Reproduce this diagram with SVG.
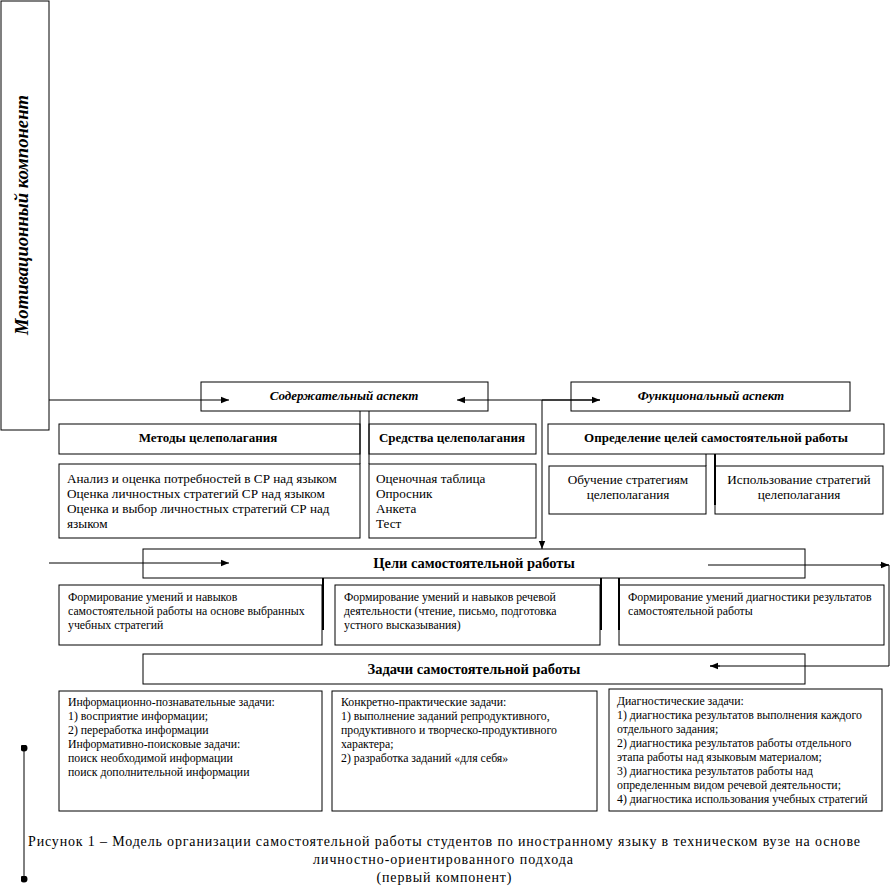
<svg xmlns="http://www.w3.org/2000/svg" width="890" height="892" viewBox="0 0 890 892" font-family="'Liberation Serif', 'Times New Roman', serif">
<defs>
<marker id="ah" viewBox="0 0 10 10" refX="10" refY="5" markerWidth="8" markerHeight="8" markerUnits="userSpaceOnUse" orient="auto"><path d="M0,1 L10,5 L0,9 z" fill="#000"/></marker>
<marker id="dot" viewBox="0 0 10 10" refX="5" refY="5" markerWidth="7" markerHeight="7" markerUnits="userSpaceOnUse"><circle cx="5" cy="5" r="5" fill="#000"/></marker>
<style>
rect{fill:#fff;stroke:#000;stroke-width:1}
text{font-family:"Liberation Serif","Times New Roman",serif;fill:#000}
.b{font-weight:bold;font-size:13px}
.bb{font-weight:bold;font-size:14.5px}
.bi{font-weight:bold;font-style:italic;font-size:13px}
.t{font-size:13.2px}
.s{font-size:11.8px}
.c{text-anchor:middle}
.ln{stroke:#000;stroke-width:1;fill:none}
.lt{stroke:#000;stroke-width:2;fill:none}
</style>
</defs>
<rect width="890" height="892" style="fill:#fff;stroke:none"/>

<g id="motiv">
<rect x="1" y="1" width="48" height="429"/>
<text transform="translate(28,215) rotate(-90)" class="c" style="font-weight:bold;font-style:italic;font-size:19px" textLength="240" lengthAdjust="spacingAndGlyphs">Мотивационный компонент</text>
</g>

<g id="soderzh">
<rect x="201" y="382" width="287" height="29"/>
<text x="344" y="400" class="bi c">Содержательный аспект</text>
</g>
<g id="funkc">
<rect x="571" y="382" width="279" height="29"/>
<text x="711" y="400" class="bi c">Функциональный аспект</text>
</g>

<g id="metody">
<rect x="59" y="424" width="301" height="30"/>
<text x="208" y="442" class="b c">Методы целеполагания</text>
</g>
<g id="sredstva">
<rect x="369" y="424" width="167" height="30"/>
<text x="452" y="442" class="b c">Средства целеполагания</text>
</g>
<g id="opredelenie">
<rect x="548" y="424" width="336" height="30"/>
<text x="716" y="442" class="b c">Определение целей самостоятельной работы</text>
</g>

<g id="metody-list">
<rect x="59" y="464" width="301" height="74"/>
<text class="t"><tspan x="67" y="483">Анализ и оценка потребностей в СР над языком</tspan><tspan x="67" y="498">Оценка личностных стратегий СР над языком</tspan><tspan x="67" y="513">Оценка и выбор личностных стратегий СР над</tspan><tspan x="67" y="528">языком</tspan></text>
</g>
<g id="sredstva-list">
<rect x="369" y="464" width="167" height="74"/>
<text class="t"><tspan x="376" y="483">Оценочная таблица</tspan><tspan x="376" y="498">Опросник</tspan><tspan x="376" y="513">Анкета</tspan><tspan x="376" y="528">Тест</tspan></text>
</g>

<g id="obuchenie">
<rect x="549" y="466" width="157" height="48"/>
<text class="t c"><tspan x="628" y="484">Обучение стратегиям</tspan><tspan x="628" y="499">целеполагания</tspan></text>
</g>
<g id="ispolzovanie">
<rect x="715" y="466" width="168" height="48"/>
<text class="t c"><tspan x="799" y="484">Использование стратегий</tspan><tspan x="799" y="499">целеполагания</tspan></text>
</g>

<g id="celi">
<rect x="143" y="549" width="662" height="29"/>
<text x="474" y="568" class="bb c">Цели самостоятельной работы</text>
</g>

<g id="cel1">
<rect x="59" y="585" width="263" height="60"/>
<text class="s"><tspan x="68" y="601">Формирование умений и навыков</tspan><tspan x="68" y="615">самостоятельной работы на основе выбранных</tspan><tspan x="68" y="629">учебных стратегий</tspan></text>
</g>
<g id="cel2">
<rect x="335" y="585" width="265" height="60"/>
<text class="s"><tspan x="344" y="601">Формирование умений и навыков речевой</tspan><tspan x="344" y="615">деятельности (чтение, письмо, подготовка</tspan><tspan x="344" y="629">устного высказывания)</tspan></text>
</g>
<g id="cel3">
<rect x="619" y="585" width="265" height="60"/>
<text class="s"><tspan x="628" y="601">Формирование умений диагностики результатов</tspan><tspan x="628" y="615">самостоятельной работы</tspan></text>
</g>

<g id="zadachi">
<rect x="143" y="654" width="662" height="30"/>
<text x="474" y="674" class="bb c">Задачи самостоятельной работы</text>
</g>

<g id="zad1">
<rect x="59" y="691" width="263" height="120"/>
<text class="s"><tspan x="68" y="706">Информационно-познавательные задачи:</tspan><tspan x="68" y="720">1) восприятие информации;</tspan><tspan x="68" y="734">2) переработка информации</tspan><tspan x="68" y="748">Информативно-поисковые задачи:</tspan><tspan x="68" y="762">поиск необходимой информации</tspan><tspan x="68" y="776">поиск дополнительной информации</tspan></text>
</g>
<g id="zad2">
<rect x="332" y="691" width="265" height="120"/>
<text class="s"><tspan x="341" y="706">Конкретно-практические задачи:</tspan><tspan x="341" y="720">1) выполнение заданий репродуктивного,</tspan><tspan x="341" y="734">продуктивного и творческо-продуктивного</tspan><tspan x="341" y="748">характера;</tspan><tspan x="341" y="762">2) разработка заданий «для себя»</tspan></text>
</g>
<g id="zad3">
<rect x="609" y="689" width="273" height="122"/>
<text class="s"><tspan x="617" y="705">Диагностические задачи:</tspan><tspan x="617" y="719">1) диагностика результатов выполнения каждого</tspan><tspan x="617" y="733">отдельного задания;</tspan><tspan x="617" y="747">2) диагностика результатов работы отдельного</tspan><tspan x="617" y="761">этапа работы над языковым материалом;</tspan><tspan x="617" y="775">3) диагностика результатов работы над</tspan><tspan x="617" y="789">определенным видом речевой деятельности;</tspan><tspan x="617" y="803">4) диагностика использования учебных стратегий</tspan></text>
</g>

<g id="connectors">
<line class="ln" x1="49" y1="400" x2="229" y2="400" marker-end="url(#ah)"/>
<line class="ln" x1="600" y1="400" x2="457" y2="400" marker-end="url(#ah)"/>
<line class="ln" x1="542" y1="400" x2="600" y2="400" marker-end="url(#ah)"/>
<line class="ln" x1="542" y1="400" x2="542" y2="549" marker-end="url(#ah)"/>
<line class="ln" x1="360" y1="411" x2="360" y2="464"/>
<line class="ln" x1="369" y1="411" x2="369" y2="464"/>
<line class="ln" x1="706" y1="454" x2="706" y2="466"/>
<line class="lt" x1="715" y1="454" x2="715" y2="505"/>
<line class="ln" x1="49" y1="563" x2="229" y2="563" marker-end="url(#ah)"/>
<polyline class="ln" points="708,565 889,565 889,666 710,666"/>
<line class="ln" x1="880" y1="565" x2="889" y2="565" marker-end="url(#ah)"/>
<line class="ln" x1="720" y1="666" x2="710" y2="666" marker-end="url(#ah)"/>
<line class="lt" x1="323" y1="578" x2="323" y2="630"/>
<line class="lt" x1="601" y1="578" x2="601" y2="630"/>
<line class="lt" x1="619" y1="578" x2="619" y2="630"/>
<line class="ln" x1="24" y1="748" x2="24" y2="879" marker-start="url(#dot)" marker-end="url(#dot)"/>
</g>

<g id="caption">
<text x="28" y="846" style="font-size:14px" textLength="832" lengthAdjust="spacing">Рисунок 1 – Модель организации самостоятельной работы студентов по иностранному языку в техническом вузе на основе</text>
<text x="443" y="864" class="c" style="font-size:14px" textLength="260" lengthAdjust="spacing">личностно-ориентированного подхода</text>
<text x="444" y="882" class="c" style="font-size:14px" textLength="135" lengthAdjust="spacing">(первый компонент)</text>
</g>
</svg>
